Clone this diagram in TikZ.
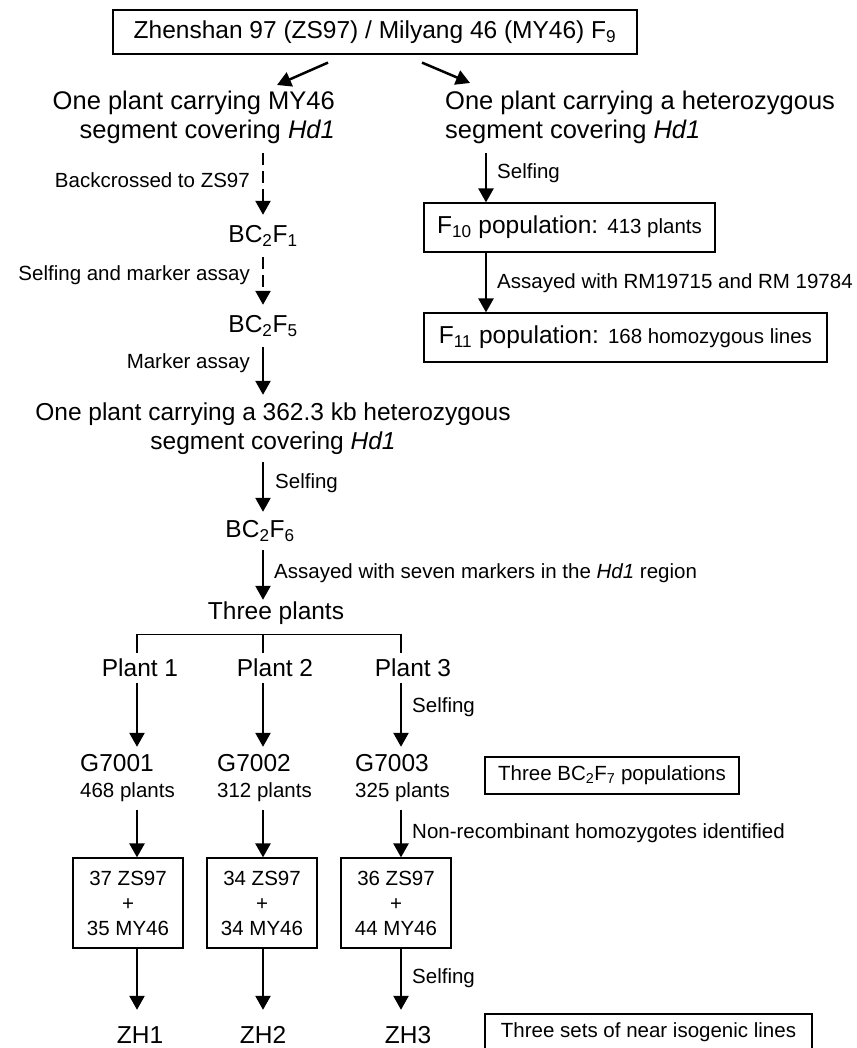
\documentclass[tikz,border=0pt]{standalone}
\usepackage{fontspec}
\setmainfont{Liberation Sans}
\usetikzlibrary{arrows.meta}
\newcommand{\bigf}{\fontsize{24.5}{29}\selectfont}
\newcommand{\headf}{\fontsize{25.5}{29}\selectfont}
\newcommand{\smallf}{\fontsize{20.5}{25}\selectfont}
\tikzset{
  big/.style={font=\bigf, inner sep=0pt},
  head/.style={font=\headf, inner sep=0pt},
  small/.style={font=\smallf, inner sep=0pt},
  arr/.style={line width=2.5pt, -{Triangle[width=15pt,length=14pt]}},
  darr/.style={arr, dash pattern=on 12pt off 6pt},
  box/.style={draw, line width=1.2pt, inner sep=0pt},
  brk/.style={line width=1.1pt},
}
\begin{document}
\begin{tikzpicture}[x=1pt,y=-1pt]
\useasboundingbox (0,0) rectangle (856,1048);
\fill[white] (0,0) rectangle (856,1048);
% columns
\coordinate (c1) at (137,0);
\coordinate (c2) at (263,0);
\coordinate (c3) at (401,0);
\coordinate (cr) at (486,0);
% top
\node[box,font=\bigf,minimum width=524pt,minimum height=44pt] (top) at (375,32) {Zhenshan 97 (ZS97) / Milyang 46 (MY46) F\textsubscript{9}};
\node[head,align=right,anchor=east,minimum height=71pt] (lt) at (335,117.5) {One plant carrying MY46\\segment covering \textit{Hd1}};
\node[head,align=left,anchor=west,minimum height=71pt] (rt) at (445,117.5) {One plant carrying a heterozygous\\segment covering \textit{Hd1}};
\coordinate (l1) at (277,85);
\coordinate (r1) at (470,83);
\draw[arr] (top.south) ++(-47,8) -- (l1);
\draw[arr] (top.south) ++(47,8) -- (r1);
% left chain
\node[big,minimum height=42pt] (bc1) at (263,236) {BC\textsubscript{2}F\textsubscript{1}};
\node[big,minimum height=42pt] (bc5) at (263,326) {BC\textsubscript{2}F\textsubscript{5}};
\node[big,align=center,minimum height=67pt] (mt) at (273,428.5) {One plant carrying a 362.3 kb heterozygous\\segment covering \textit{Hd1}};
\node[big,minimum height=38pt] (bc6) at (260,531) {BC\textsubscript{2}F\textsubscript{6}};
\node[big,minimum height=26pt] (three) at (276,613) {Three plants};
\draw[darr] (lt.south -| c2) -- (bc1.north);
\draw[darr] (bc1.south) -- (bc5.north);
\draw[arr] (bc5.south) -- (mt.north -| c2);
\draw[arr] (mt.south -| c2) -- (bc6.north -| c2);
\draw[arr] (bc6.south -| c2) -- (three.north -| c2);
\node[small,anchor=east] (lab1) at (250,180) {Backcrossed to ZS97};
\node[small,anchor=east] (lab2) at (250,275) {Selfing and marker assay};
\node[small,anchor=east] (lab3) at (250,363) {Marker assay};
\node[small,anchor=west] (lab4) at (275,483) {Selfing};
\node[small,anchor=west] (lab5) at (274,573) {Assayed with seven markers in the \textit{Hd1} region};
% plants
\node[big,minimum height=30pt] (p1) at (140,668) {Plant 1};
\node[big,minimum height=30pt] (p2) at (275,668) {Plant 2};
\node[big,minimum height=30pt] (p3) at (413,668) {Plant 3};
\draw[brk] (p1.north -| c1) -- ++(0,-18) -| (p3.north -| c3);
\draw[brk] (p2.north -| c2) -- ++(0,-18);
\node[big,anchor=west,minimum height=32pt] (g1) at (80,763) {G7001};
\node[big,anchor=west,minimum height=32pt] (g2) at (217,763) {G7002};
\node[big,anchor=west,minimum height=32pt] (g3) at (355,763) {G7003};
\node[small,anchor=west,minimum height=36pt] (n1) at (80,792) {468 plants};
\node[small,anchor=west,minimum height=36pt] (n2) at (217,792) {312 plants};
\node[small,anchor=west,minimum height=36pt] (n3) at (355,792) {325 plants};
\draw[arr] (p1.south -| c1) -- (g1.north -| c1);
\draw[arr] (p2.south -| c2) -- (g2.north -| c2);
\draw[arr] (p3.south -| c3) -- (g3.north -| c3);
\node[small,anchor=west] (lab6) at (412,707) {Selfing};
\node[box,font=\smallf,minimum width=254pt,minimum height=37pt] (bp) at (612,775.5) {Three BC\textsubscript{2}F\textsubscript{7} populations};
% boxes
\node[box,font=\smallf,align=center,minimum width=110pt,minimum height=90pt] (b1) at (128,903) {37 ZS97\\+\\35 MY46};
\node[box,font=\smallf,align=center,minimum width=110pt,minimum height=90pt] (b2) at (262,903) {34 ZS97\\+\\34 MY46};
\node[box,font=\smallf,align=center,minimum width=110pt,minimum height=90pt] (b3) at (396,903) {36 ZS97\\+\\44 MY46};
\draw[arr] (n1.south -| c1) -- (b1.north -| c1);
\draw[arr] (n2.south -| c2) -- (b2.north -| c2);
\draw[arr] (n3.south -| c3) -- (b3.north -| c3);
\node[small,anchor=west] (lab7) at (412,833) {Non-recombinant homozygotes identified};
\node[big,minimum height=50pt] (z1) at (140,1035) {ZH1};
\node[big,minimum height=50pt] (z2) at (263,1035) {ZH2};
\node[big,minimum height=50pt] (z3) at (408,1035) {ZH3};
\draw[arr] (b1.south -| c1) -- (z1.north -| c1);
\draw[arr] (b2.south -| c2) -- (z2.north -| c2);
\draw[arr] (b3.south -| c3) -- (z3.north -| c3);
\node[small,anchor=west] (lab8) at (412,978) {Selfing};
\node[box,font=\smallf,minimum width=327pt,minimum height=36pt] (nil) at (648.5,1032) {Three sets of near isogenic lines};
% right chain
\node[box,font=\bigf,minimum width=291pt,minimum height=49pt] (f10) at (569.5,227.5) {F\textsubscript{10} population: {\smallf 413 plants}};
\node[box,font=\bigf,minimum width=403pt,minimum height=49pt] (f11) at (625.5,337.5) {F\textsubscript{11} population: {\smallf 168 homozygous lines}};
\draw[arr] (rt.south -| cr) -- (f10.north -| cr);
\draw[arr] (f10.south -| cr) -- (f11.north -| cr);
\node[small,anchor=west] (lab9) at (497,173) {Selfing};
\node[small,anchor=west] (lab10) at (497,283) {Assayed with RM19715 and RM 19784};
\end{tikzpicture}
\end{document}
